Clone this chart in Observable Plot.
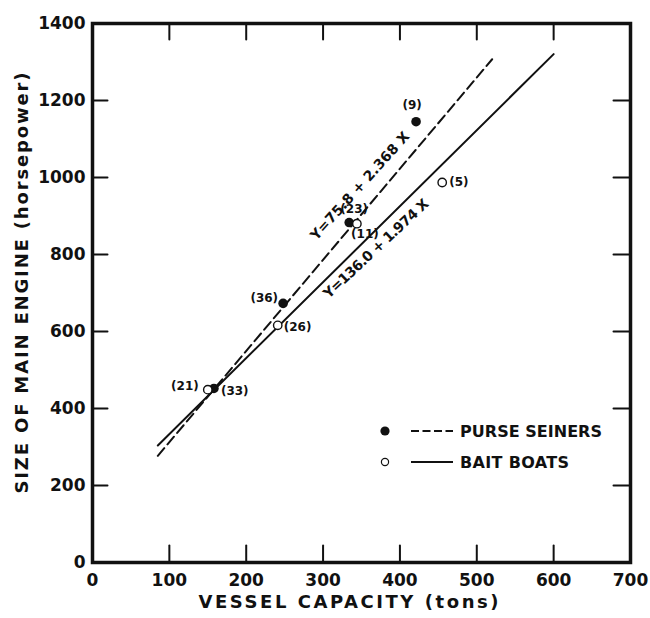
<!DOCTYPE html>
<html>
<head>
<meta charset="utf-8">
<script src="https://cdn.jsdelivr.net/npm/d3@7"></script>
<script src="https://cdn.jsdelivr.net/npm/@observablehq/plot@0.6"></script>
<style>
  body { margin: 0; background: #fff; }
  #chart { position: relative; width: 650px; height: 618px; }
  #chart svg { display: block; }
</style>
</head>
<body>
<div id="chart"></div>
<script>
// Axis ticks
const xTicks = [0, 100, 200, 300, 400, 500, 600, 700];
const yTicks = [0, 200, 400, 600, 800, 1000, 1200, 1400];
const xInnerTicks = [100, 200, 300, 400, 500, 600];
const yInnerTicks = [200, 400, 600, 800, 1000, 1200];

// Purse seiners (filled points): capacity (tons), engine (hp), sample size
const purseCapacity = [421, 334, 248, 158];
const purseEngine = [1145, 883, 673, 452];
const purseCount = ["(9)", "(23)", "(36)", "(33)"];

// Bait boats (open points)
const baitCapacity = [455, 344, 241, 150];
const baitEngine = [987, 880, 616, 449];
const baitCount = ["(5)", "(11)", "(26)", "(21)"];

// Fitted regressions Y = a + bX and the capacity range they cover
const purseFit = [75.8, 2.368];
const purseRange = [85, 520];
const baitFit = [136.0, 1.974];
const baitRange = [85, 600];

const purseLabel = "Y=75.8 + 2.368 X";
const baitLabel = "Y=136.0 + 1.974 X";
const xTitle = "VESSEL CAPACITY (tons)";
const yTitle = "SIZE OF MAIN ENGINE (horsepower)";
const legendNames = ["PURSE SEINERS", "BAIT BOATS"];

const purse = purseCapacity.map((x, i) => ({x, y: purseEngine[i], label: purseCount[i]}));
const bait = baitCapacity.map((x, i) => ({x, y: baitEngine[i], label: baitCount[i]}));
const fitLine = ([a, b], range) => range.map(x => ({x, y: a + b * x}));

// where each sample-size label sits relative to its point
const labelPlace = {
  "(9)":  {dx: -4, dy: -17, textAnchor: "middle"},
  "(23)": {dx: 5, dy: -13, textAnchor: "middle"},
  "(36)": {dx: -5, dy: -5, textAnchor: "end"},
  "(33)": {dx: 7, dy: 3, textAnchor: "start"},
  "(5)":  {dx: 7, dy: 0, textAnchor: "start"},
  "(11)": {dx: 8, dy: 10, textAnchor: "middle"},
  "(26)": {dx: 6, dy: 2, textAnchor: "start"},
  "(21)": {dx: -9, dy: -3, textAnchor: "end"}
};

// plain inward tick line for the frame
const tickShape = {draw(ctx, l) { ctx.moveTo(0, 0); ctx.lineTo(0, -l); }};
const ink = "#111";

const plot = Plot.plot({
  width: 650,
  height: 618,
  marginLeft: 92,
  marginRight: 20,
  marginTop: 23,
  marginBottom: 56,
  x: {domain: [0, 700]},
  y: {domain: [0, 1400]},
  style: {
    fontFamily: "'DejaVu Sans', sans-serif",
    fontWeight: "bold",
    fontSize: "17px",
    color: ink,
    background: "#fff",
    overflow: "visible"
  },
  marks: [
    Plot.axisX(xTicks, {tickSize: 0, tickPadding: 11, label: null, fontSize: 17, tickFormat: d => String(d)}),
    Plot.axisY(yTicks, {tickSize: 0, tickPadding: 7, label: null, fontSize: 17, tickFormat: d => String(d)}),
    Plot.vector(xInnerTicks, {x: d => d, frameAnchor: "bottom", rotate: 0, length: 17, anchor: "start", shape: tickShape, stroke: ink, strokeWidth: 2}),
    Plot.vector(xInnerTicks, {x: d => d, frameAnchor: "top", rotate: 180, length: 16, anchor: "start", shape: tickShape, stroke: ink, strokeWidth: 2}),
    Plot.vector(yInnerTicks, {y: d => d, frameAnchor: "left", rotate: 90, length: 15, anchor: "start", shape: tickShape, stroke: ink, strokeWidth: 2}),
    Plot.vector(yInnerTicks, {y: d => d, frameAnchor: "right", rotate: -90, length: 17, anchor: "start", shape: tickShape, stroke: ink, strokeWidth: 2}),
    Plot.frame({stroke: ink, strokeWidth: 3.5}),
    Plot.line(fitLine(purseFit, purseRange), {x: "x", y: "y", stroke: ink, strokeWidth: 2, strokeDasharray: "10,5"}),
    Plot.line(fitLine(baitFit, baitRange), {x: "x", y: "y", stroke: ink, strokeWidth: 2}),
    Plot.dot(purse, {x: "x", y: "y", r: 4.8, fill: ink}),
    Plot.dot(bait, {x: "x", y: "y", r: 4.2, fill: "#fff", stroke: ink, strokeWidth: 1.4}),
    ...[...purse, ...bait].map(d => Plot.text([d], {
      x: "x", y: "y", text: "label", fontSize: 12, ...labelPlace[d.label]
    })),
    Plot.text([348], {x: d => d, y: d => purseFit[0] + purseFit[1] * d, text: () => purseLabel, rotate: -48, dy: -30, fontSize: 14}),
    Plot.text([369], {x: d => d, y: d => baitFit[0] + baitFit[1] * d, text: () => baitLabel, rotate: -43, dy: 19, fontSize: 14}),
    Plot.text([xTitle], {text: d => d, frameAnchor: "bottom", textAnchor: "middle", dx: -13, dy: 45, fontSize: 18}),
    Plot.text([yTitle], {text: d => d, frameAnchor: "left", textAnchor: "middle", rotate: -90, dx: -70, dy: -10, fontSize: 18})
  ]
});

document.getElementById("chart").append(plot);

// widen the hand-lettered spacing of titles and equations
const spread = {
  [xTitle]: 300,
  [yTitle]: 421,
  [purseLabel]: 140,
  [baitLabel]: 138
};
plot.querySelectorAll("text").forEach(t => {
  const w = spread[t.textContent];
  if (w) { t.setAttribute("textLength", w); t.setAttribute("lengthAdjust", "spacing"); }
});

// legend inside the frame
const svg = d3.select(plot);
const lg = svg.append("g").attr("fill", ink).attr("stroke", ink).attr("text-anchor", "start");
const rows = [
  {name: legendNames[0], cy: 431, dash: "8,3.5", filled: true, len: 142},
  {name: legendNames[1], cy: 462, dash: null, filled: false, len: 109}
];
rows.forEach(r => {
  lg.append("circle").attr("cx", 385).attr("cy", r.cy).attr("r", r.filled ? 4.6 : 3.6)
    .attr("fill", r.filled ? ink : "#fff").attr("stroke-width", r.filled ? 0 : 1.2);
  lg.append("line").attr("x1", 411).attr("x2", 453).attr("y1", r.cy).attr("y2", r.cy)
    .attr("stroke-width", 2).attr("stroke-dasharray", r.dash);
  lg.append("text").attr("x", 460).attr("y", r.cy + 6).attr("stroke", "none")
    .attr("text-anchor", "start")
    .attr("font-size", 16).attr("textLength", r.len).attr("lengthAdjust", "spacing")
    .text(r.name);
});
</script>
</body>
</html>
